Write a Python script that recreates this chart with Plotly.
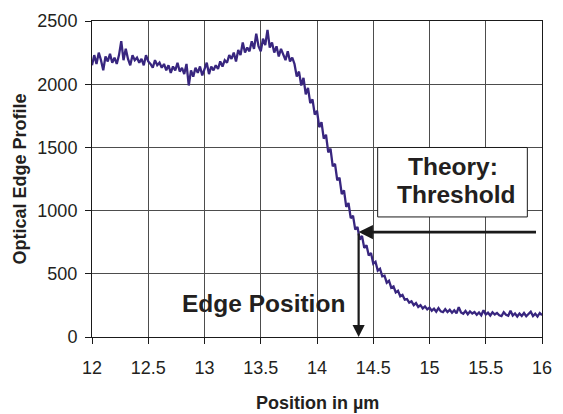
import plotly.graph_objects as go

# ---- data ----
positions = [round(12 + 0.02 * i, 2) for i in range(201)]  # sample positions in µm
profile = [
    2150, 2230, 2160, 2250, 2190, 2110, 2220, 2180, 2240, 2170,
    2210, 2160, 2230, 2340, 2190, 2280, 2200, 2150, 2230, 2190,
    2210, 2170, 2200, 2150, 2230, 2180, 2160, 2130, 2190, 2150,
    2170, 2130, 2160, 2110, 2150, 2090, 2140, 2110, 2170, 2100,
    2130, 2080, 2160, 1990, 2110, 2060, 2130, 2090, 2140, 2070,
    2120, 2170, 2080, 2140, 2110, 2150, 2120, 2180, 2140, 2190,
    2170, 2230, 2200, 2250, 2180, 2270, 2230, 2330, 2250, 2290,
    2260, 2340, 2280, 2400, 2300, 2260, 2360, 2310, 2430, 2290,
    2330, 2250, 2300, 2220, 2280, 2240, 2190, 2260, 2180, 2210,
    2160, 2060, 2100, 1990, 2050, 1920, 1970, 1850, 1880, 1760,
    1790, 1660, 1700, 1570, 1600, 1460, 1490, 1350, 1370, 1240,
    1260, 1130, 1160, 1030, 1060, 940, 960, 850, 870, 770,
    800, 705, 725, 645, 665, 580, 595, 525, 540, 480,
    485, 430, 445, 390, 400, 352, 365, 322, 333, 295,
    300, 272, 282, 252, 268, 238, 252, 226, 242, 218,
    232, 208, 224, 200, 228, 203, 196, 220, 198, 215,
    192, 212, 188, 236, 194, 184, 206, 180, 202, 186,
    198, 176, 194, 172, 212, 178, 192, 170, 196, 178,
    190, 172, 166, 196, 176, 168, 208, 170, 186, 162,
    186, 166, 190, 164, 182, 200, 166, 184, 162, 190,
    172,
]
x_ticks = [12, 12.5, 13, 13.5, 14, 14.5, 15, 15.5, 16]
x_tick_labels = ["12", "12.5", "13", "13.5", "14", "14.5", "15", "15.5", "16"]
y_ticks = [0, 500, 1000, 1500, 2000, 2500]
y_tick_labels = ["0", "500", "1000", "1500", "2000", "2500"]
threshold = 830          # theory threshold level
edge_position = 14.37    # µm where profile crosses threshold
arrow_start = 15.96      # right end of threshold arrow

FONT = "Liberation Sans, Arial, Helvetica, sans-serif"
TXT = "#231f20"

fig = go.Figure()
fig.add_trace(go.Scatter(
    x=positions, y=profile, mode="lines",
    line=dict(color="#38267f", width=2.3),
    showlegend=False, hoverinfo="skip",
))

axis_common = dict(
    showline=True, mirror=True, linecolor="#1a1a1a", linewidth=1,
    showgrid=True, gridcolor="#4d4d4d", gridwidth=1,
    zeroline=False, ticks="outside", ticklen=6, tickcolor="#1a1a1a",
    tickfont=dict(family=FONT, size=18, color=TXT),
)
fig.update_xaxes(range=[12, 16], tickvals=x_ticks, ticktext=x_tick_labels,
                 ticklabelstandoff=8, **axis_common)
fig.update_yaxes(range=[0, 2500], tickvals=y_ticks, ticktext=y_tick_labels,
                 ticklabelstandoff=4, **axis_common)

# Threshold arrow (horizontal) and edge position arrow (vertical)
fig.add_annotation(x=edge_position, y=threshold, ax=arrow_start, ay=threshold,
                   xref="x", yref="y", axref="x", ayref="y", text="",
                   showarrow=True, arrowhead=2, arrowsize=1.1, arrowwidth=2.6,
                   arrowcolor="#1a1a1a", standoff=0, startstandoff=0)
fig.add_annotation(x=edge_position, y=0, ax=edge_position, ay=threshold,
                   xref="x", yref="y", axref="x", ayref="y", text="",
                   showarrow=True, arrowhead=2, arrowsize=1.1, arrowwidth=2.2,
                   arrowcolor="#1a1a1a", standoff=0, startstandoff=0)

# Theory box
fig.add_shape(type="rect", xref="paper", yref="paper",
              x0=0.6348, x1=0.9674, y0=0.3799, y1=0.5997,
              line=dict(color="#1a1a1a", width=1), fillcolor="white", layer="above")
fig.add_annotation(xref="paper", yref="paper", x=0.803, y=0.538,
                   text="<b>Theory:</b>", showarrow=False,
                   font=dict(family=FONT, size=24.5, color=TXT),
                   xanchor="center", yanchor="middle")
fig.add_annotation(xref="paper", yref="paper", x=0.808, y=0.450,
                   text="<b>Threshold</b>", showarrow=False,
                   font=dict(family=FONT, size=24.5, color=TXT),
                   xanchor="center", yanchor="middle")

# Edge Position label
fig.add_annotation(xref="paper", yref="paper", x=0.3815, y=0.105,
                   text="<b>Edge Position</b>", showarrow=False,
                   font=dict(family=FONT, size=24.5, color=TXT),
                   xanchor="center", yanchor="middle")

# Axis titles
fig.add_annotation(xref="paper", yref="paper", x=0.5, y=-0.21,
                   text="<b>Position in µm</b>", showarrow=False,
                   font=dict(family=FONT, size=18, color=TXT),
                   xanchor="center", yanchor="middle")
fig.add_annotation(xref="paper", yref="paper", x=-0.161, y=0.5,
                   text="<b>Optical Edge Profile</b>", showarrow=False,
                   textangle=-90,
                   font=dict(family=FONT, size=18, color=TXT),
                   xanchor="center", yanchor="middle")

fig.update_layout(
    width=563, height=414,
    margin=dict(l=92, r=11, t=18.5, b=77),
    paper_bgcolor="white", plot_bgcolor="white",
    font=dict(family=FONT, color=TXT),
)

fig.write_html("out.html", config={"displayModeBar": False})

# remove the default browser body margin so the figure sits at the page origin
with open("out.html", "r", encoding="utf-8") as f:
    html = f.read()
html = html.replace("<head>", "<head><style>html,body{margin:0;padding:0;overflow:hidden;}</style>", 1)
with open("out.html", "w", encoding="utf-8") as f:
    f.write(html)
